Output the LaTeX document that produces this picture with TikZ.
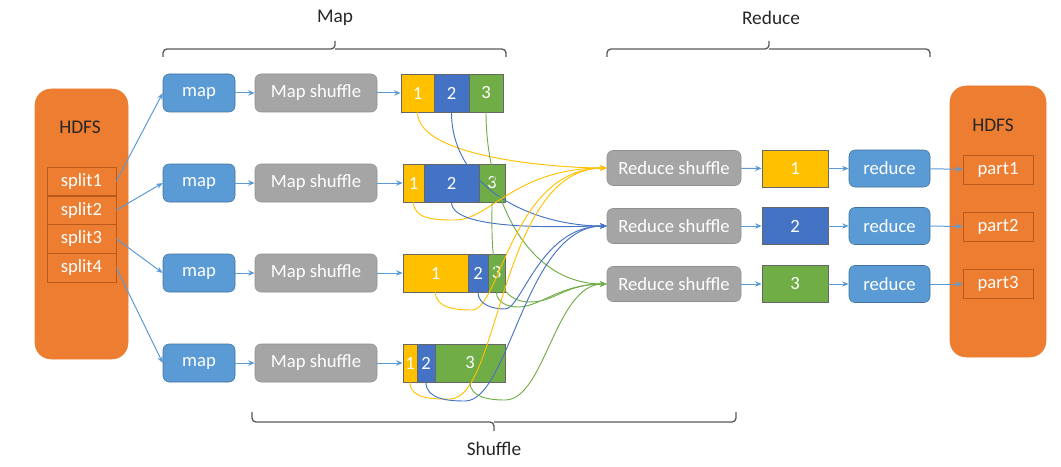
\documentclass[tikz,border=0pt]{standalone}
\usepackage{fontspec}
\setmainfont{Carlito}
\usepackage{xcolor}
\usepackage{tikz}
\usetikzlibrary{arrows.meta,positioning}

\definecolor{hdfsor}{HTML}{ED7D31}
\definecolor{hdfsline}{HTML}{B85A1C}
\definecolor{mblue}{HTML}{5B9BD5}
\definecolor{mline}{HTML}{41719C}
\definecolor{sgray}{HTML}{A5A5A5}
\definecolor{sline}{HTML}{8F8F8F}
\definecolor{pyel}{HTML}{FFC000}
\definecolor{pblu}{HTML}{4472C4}
\definecolor{pgrn}{HTML}{70AD47}
\definecolor{arblue}{HTML}{5B9BD5}
\definecolor{brcol}{HTML}{595959}

\begin{document}
\begin{tikzpicture}[x=0.75pt,y=-0.75pt,>={Stealth[length=5pt,width=4pt]},font=\fontsize{14}{16}\selectfont]
\tikzstyle{hdfs}=[rounded corners=12pt,fill=hdfsor,draw=hdfsor,minimum width=69.75pt,minimum height=202.5pt]
\tikzstyle{split}=[fill=hdfsor,draw=hdfsline,text=white,minimum width=51.75pt,minimum height=21.5pt,inner sep=0pt]
\tikzstyle{part}=[split,minimum width=52.5pt,minimum height=21.75pt]
\tikzstyle{mapb}=[rounded corners=4.5pt,fill=mblue,draw=mline,text=white,minimum width=54pt,minimum height=28.5pt,inner sep=0pt]
\tikzstyle{redb}=[mapb,minimum width=60.75pt,minimum height=27.75pt]
\tikzstyle{shuf}=[rounded corners=4.5pt,fill=sgray,draw=sline,text=white,minimum width=91.5pt,minimum height=28.5pt,inner sep=0pt]
\tikzstyle{rshuf}=[shuf,minimum width=100.5pt,minimum height=26.25pt]
\tikzstyle{seg}=[draw=black!60,text=white,minimum height=28.5pt,inner sep=0pt]
\tikzstyle{outbox}=[seg,minimum width=49.5pt,minimum height=27.75pt]
\tikzstyle{ar}=[->,draw=arblue,line width=0.75pt]
\tikzstyle{cy}=[->,draw=pyel,line width=0.7pt]
\tikzstyle{cb}=[->,draw=pblu,line width=0.7pt]
\tikzstyle{cg}=[->,draw=pgrn,line width=0.7pt]
\tikzstyle{brc}=[draw=brcol,line width=1pt,rounded corners=3pt]
\tikzstyle{lbl}=[text=black!85,font=\fontsize{14.5}{17}\selectfont]

\useasboundingbox (0,0) rectangle (1061,467);

% left HDFS
\node[hdfs] (hl) at (81.5,224) {};
\node[lbl] (hlt) at (80,127) {HDFS};
\node[split] (sp1) at (81.5,181.4) {split1};
\node[split] (sp2) at (81.5,210.1) {split2};
\node[split] (sp3) at (81.5,238.8) {split3};
\node[split] (sp4) at (81.5,267.5) {split4};

% map side
\node[mapb] (m1) at (199,93) {map};
\node[mapb] (m2) at (199,183) {map};
\node[mapb] (m3) at (199,273) {map};
\node[mapb] (m4) at (199,363) {map};
\node[shuf] (s1) at (316,93) {Map shuffle};
\node[shuf] (s2) at (316,183) {Map shuffle};
\node[shuf] (s3) at (316,273) {Map shuffle};
\node[shuf] (s4) at (316,363) {Map shuffle};

% partitions
\node[seg,fill=pyel,minimum width=24.75pt] (a1) at (417.5,93) {1};
\node[seg,fill=pblu,minimum width=26.25pt] (b1) at (451.5,93) {2};
\node[seg,fill=pgrn,minimum width=25.5pt] (c1) at (486,93) {3};
\node[seg,fill=pyel,minimum width=15.75pt] (a2) at (413.5,183) {1};
\node[seg,fill=pblu,minimum width=41.25pt] (b2) at (451.5,183) {2};
\node[seg,fill=pgrn,minimum width=19.5pt] (c2) at (492,183) {3};
\node[seg,fill=pyel,minimum width=48.75pt] (a3) at (435.5,273) {1};
\node[seg,fill=pblu,minimum width=15pt] (b3) at (478,273) {2};
\node[seg,fill=pgrn,minimum width=12.75pt] (c3) at (496.5,273) {3};
\node[seg,fill=pyel,minimum width=10.5pt] (a4) at (410,363) {1};
\node[seg,fill=pblu,minimum width=13.5pt] (b4) at (426,363) {2};
\node[seg,fill=pgrn,minimum width=52.5pt] (c4) at (470,363) {3};

% reduce side
\node[rshuf] (r1) at (674,168) {Reduce shuffle};
\node[rshuf] (r2) at (674,226) {Reduce shuffle};
\node[rshuf] (r3) at (674,284) {Reduce shuffle};
\node[outbox,fill=pyel] (o1) at (795,168.5) {1};
\node[outbox,fill=pblu] (o2) at (795,226) {2};
\node[outbox,fill=pgrn] (o3) at (795,284) {3};
\node[redb] (d1) at (889.5,168.5) {reduce};
\node[redb] (d2) at (889.5,226) {reduce};
\node[redb] (d3) at (889.5,284) {reduce};

% right HDFS
\node[hdfs,minimum width=72pt,minimum height=203.25pt] (hr) at (998,221.5) {};
\node[lbl] (hrt) at (993,125) {HDFS};
\node[part] (p1) at (998,169.5) {part1};
\node[part] (p2) at (998,226.5) {part2};
\node[part] (p3) at (998,284) {part3};

% straight arrows
\draw[ar] (sp1.east) -- (m1.west);
\draw[ar] (sp2.east) -- (m2.west);
\draw[ar] (sp3.east) -- (m3.west);
\draw[ar] (sp4.east) -- (m4.west);
\draw[ar] (m1) -- (s1);
\draw[ar] (m2) -- (s2);
\draw[ar] (m3) -- (s3);
\draw[ar] (m4) -- (s4);
\draw[ar] (s1) -- (a1);
\draw[ar] (s2) -- (a2);
\draw[ar] (s3) -- (a3);
\draw[ar] (s4) -- (a4);
\draw[ar] (r1) -- (o1);
\draw[ar] (r2) -- (o2);
\draw[ar] (r3) -- (o3);
\draw[ar] (o1) -- (d1);
\draw[ar] (o2) -- (d2);
\draw[ar] (o3) -- (d3);
\draw[ar] (d1) -- (p1);
\draw[ar] (d2) -- (p2);
\draw[ar] (d3) -- (p3);

% shuffle curves
\draw[cy] (a1.south) to[out=-90,in=180,looseness=0.6] (r1.west);
\draw[cb] (b1.south) to[out=-90,in=180] (r2.west);
\draw[cg] (c1.south) to[out=-90,in=180] (r3.west);
\draw[cy] (a2.south) to[out=-90,in=180] (455,220) .. controls (490,220) and (515,168) .. (r1.west);
\draw[cb] (b2.south) to[out=-90,in=180,looseness=0.5] (r2.west);
\draw[cg] (c2.south) to[out=-90,in=180] (530,302) .. controls (555,302) and (565,284) .. (r3.west);
\draw[cy] (a3.south) to[out=-90,in=180] (472,310) .. controls (500,310) and (512,168) .. (r1.west);
\draw[cb] (b3.south) to[out=-90,in=180] (505,309) .. controls (522,309) and (540,226) .. (r2.west);
\draw[cg] (c3.south) to[out=-90,in=180] (518,307) .. controls (540,307) and (560,284) .. (r3.west);
\draw[cy] (a4.south) to[out=-90,in=180] (450,399) .. controls (500,399) and (500,168) .. (r1.west);
\draw[cb] (b4.south) to[out=-90,in=180] (465,401) .. controls (510,401) and (525,226) .. (r2.west);
\draw[cg] (c4.south) to[out=-90,in=180] (505,400) .. controls (545,400) and (555,284) .. (r3.west);

% braces
\draw[brc] (163,57) -- (163,49) -- (335,49) -- (335,41);
\draw[brc] (335,49) -- (506,49) -- (506,57);
\draw[brc] (607,57) -- (607,49) -- (769,49) -- (769,41);
\draw[brc] (769,49) -- (930,49) -- (930,57);
\draw[brc] (252,412) -- (252,422) -- (494,422) -- (494,431);
\draw[brc] (494,422) -- (736,422) -- (736,412);
\node[lbl] (maplbl) at (335,18) {Map};
\node[lbl] (redlbl) at (771,18) {Reduce};
\node[lbl] (shuflbl) at (494,449) {Shuffle};
\end{tikzpicture}
\end{document}
